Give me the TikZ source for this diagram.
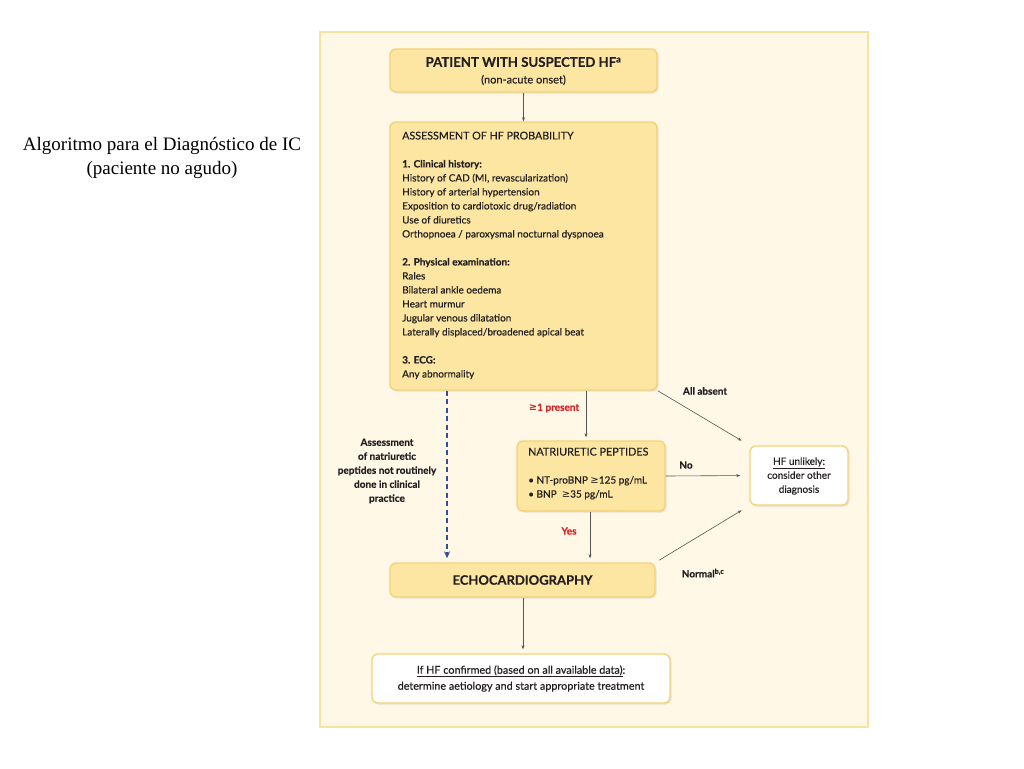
\documentclass[tikz,border=0pt]{standalone}
\usepackage{fontspec}
\setmainfont{Lato}[FakeBold=0.4]
\newfontfamily\seriffont{Liberation Serif}
\newfontfamily\symfont{DejaVu Sans}
\usetikzlibrary{shadows,arrows.meta}
\definecolor{panel}{HTML}{FFF8E7}
\definecolor{panelborder}{HTML}{F7E3A0}
\definecolor{boxfill}{HTML}{FCE6A2}
\definecolor{boxborder}{HTML}{F3D37A}
\definecolor{redtxt}{HTML}{D2232A}
\definecolor{dashblue}{HTML}{2F4F9A}
\definecolor{linegray}{HTML}{555555}
\definecolor{txt}{HTML}{231F20}
\newcommand{\gee}{{\symfont\char"2265}}
\tikzset{
  box/.style={draw=boxborder, fill=boxfill, line width=1.4pt, rounded corners=6pt,
    inner sep=0pt, drop shadow={opacity=0.18, shadow xshift=1.5pt, shadow yshift=-1.5pt}},
  wbox/.style={box, fill=white},
  body/.style={text=txt, inner sep=0pt, font=\fontsize{10}{14}\selectfont},
  lbl/.style={text=txt, inner sep=0pt, font=\fontsize{10}{14}\selectfont\bfseries},
  rlbl/.style={lbl, text=redtxt},
  conn/.style={draw=linegray, line width=0.6pt, -{Stealth[length=4pt,width=3pt]}},
}
\begin{document}
\begin{tikzpicture}[x=1pt,y=-1pt]
\useasboundingbox (0,0) rectangle (1024,768);
\fill[white] (0,0) rectangle (1024,768);
\draw[panelborder, fill=panel, line width=1.5pt] (320,32) rectangle (868,727);

\node[font=\seriffont\fontsize{19}{24}\selectfont, inner sep=0pt] (t1) at (162,146) {Algoritmo para el Diagnóstico de IC};
\node[font=\seriffont\fontsize{19}{24}\selectfont, inner sep=0pt] (t2) at (162,170) {(paciente no agudo)};

% boxes
\node[box, minimum width=267pt, minimum height=43pt] (top) at (523.5,70.5) {};
\node[box, minimum width=267pt, minimum height=268pt] (assess) at (523.5,256) {};
\node[box, minimum width=148pt, minimum height=70pt] (natri) at (591,476) {};
\node[wbox, minimum width=98pt, minimum height=59pt] (hf) at (799,475.5) {};
\node[box, minimum width=265pt, minimum height=34pt] (echo) at (522.5,580) {};
\node[wbox, minimum width=298pt, minimum height=49pt] (final) at (521,678.5) {};

% texts
\node[body, font=\fontsize{13.2}{14}\selectfont\bfseries] (topa) at (523.5,62) {PATIENT WITH SUSPECTED HF\textsuperscript{a}};
\node[body, font=\fontsize{11}{14}\selectfont] (topb) at (523.5,80) {(non-acute onset)};

\node[body, anchor=north west, align=left] (assesstxt) at (402,131.5) {%
{\fontsize{10.7}{14}\selectfont ASSESSMENT OF HF PROBABILITY}\\[14pt]
\textbf{1. Clinical history:}\\
History of CAD (MI, revascularization)\\
History of arterial hypertension\\
Exposition to cardiotoxic drug/radiation\\
Use of diuretics\\
Orthopnoea / paroxysmal nocturnal dyspnoea\\[14pt]
\textbf{2. Physical examination:}\\
Rales\\
Bilateral ankle oedema\\
Heart murmur\\
Jugular venous dilatation\\
Laterally displaced/broadened apical beat\\[14pt]
\textbf{3. ECG:}\\
Any abnormality};

\node[body, anchor=north west, align=left] (natritxt) at (528,447.5) {%
{\fontsize{10.8}{14}\selectfont NATRIURETIC PEPTIDES}\\[14pt]
• NT-proBNP \gee125 pg/mL\\
• BNP\ \ \gee35 pg/mL};

\node[body, align=center] (hftxt) at (799,476) {\underline{HF unlikely:}\\consider other\\diagnosis};

\node[body, font=\fontsize{13}{14}\selectfont\bfseries] (echotxt) at (522.5,580) {ECHOCARDIOGRAPHY};

\node[body, align=center, font=\fontsize{10.8}{16}\selectfont] (finaltxt) at (521,678.5) {\underline{If HF confirmed (based on all available data)}:\\determine aetiology and start appropriate treatment};

% helper coordinates
\coordinate (dx) at (447,0);
\coordinate (px) at (586,0);
\coordinate (yx) at (590,0);
\coordinate (ex) at (523,0);

% connectors
\draw[conn] (top.south) -- (assess.north);
\draw[draw=dashblue, line width=1.2pt, dash pattern=on 5pt off 3.5pt, -{Stealth[length=7pt,width=6pt]}, shorten >=4pt] (assess.south -| dx) -- (echo.north -| dx);
\draw[conn, shorten >=3pt] (assess.south -| px) -- (natri.north -| px);
\draw[conn, shorten >=9pt] (assess.south east) -- (hf.north west);
\draw[conn, shorten >=9pt] (natri.east) -- (hf.west);
\draw[conn, shorten >=4pt] (natri.south -| yx) -- (echo.north -| yx);
\draw[conn, shorten >=9pt, shorten <=4pt] (echo.north east) -- (hf.south west);
\draw[conn, shorten >=4pt] (echo.south -| ex) -- (final.north -| ex);

% labels
\node[rlbl] (present) at (554,408) {\gee1 present};
\node[lbl] (absent) at (705,391) {All absent};
\node[lbl] (no) at (686,465) {No};
\node[rlbl] (yes) at (569,531) {Yes};
\node[lbl] (normal) at (703,573) {Normal\textsuperscript{b,c}};
\node[lbl, align=center] (dashlbl) at (387,471) {Assessment\\of natriuretic\\peptides not routinely\\done in clinical\\practice};
\end{tikzpicture}
\end{document}
